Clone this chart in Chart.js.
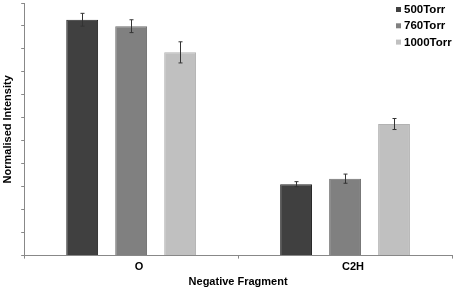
<!DOCTYPE html>
<html>
<head>
<meta charset="utf-8">
<script src="https://cdn.jsdelivr.net/npm/chart.js@4.4.1/dist/chart.umd.min.js"></script>
<style>
  html, body { margin: 0; padding: 0; background: #fff; }
  #wrap { width: 454px; height: 290px; }
</style>
</head>
<body>
<div id="wrap"><canvas id="chart"></canvas></div>
<script>
const categories = ["O", "C2H"];
const seriesNames = ["500Torr", "760Torr", "1000Torr"];
const values500 = [1.027, 0.311];
const values760 = [0.999, 0.335];
const values1000 = [0.885, 0.573];
const err500 = [0.028, 0.011];
const err760 = [0.028, 0.020];
const err1000 = [0.046, 0.024];
const yTicks = [0, 0.1, 0.2, 0.3, 0.4, 0.5, 0.6, 0.7, 0.8, 0.9, 1.0, 1.1];

const fills = ["#404040", "#808080", "#c0c0c0"];
const borders = ["#262626", "#6e6e6e", "#b2b2b2"];
const font = "'Liberation Sans', Arial, sans-serif";

// error bars drawn on top of each bar
const errorBars = {
    id: "errorBars",
    afterDatasetsDraw(chart) {
        const ctx = chart.ctx;
        const y = chart.scales.y;
        ctx.save();
        ctx.strokeStyle = "#333";
        ctx.lineWidth = 1;
        chart.data.datasets.forEach((ds, i) => {
            const meta = chart.getDatasetMeta(i);
            meta.data.forEach((bar, j) => {
                const x = Math.round(bar.x) + 0.5;
                const top = y.getPixelForValue(ds.data[j] + ds.errors[j]);
                const bot = y.getPixelForValue(ds.data[j] - ds.errors[j]);
                ctx.beginPath();
                ctx.moveTo(x, top); ctx.lineTo(x, bot);
                ctx.moveTo(x - 2, top); ctx.lineTo(x + 2, top);
                ctx.moveTo(x - 2, bot); ctx.lineTo(x + 2, bot);
                ctx.stroke();
            });
        });
        ctx.restore();
    }
};

// legend sitting inside the plot, top right
const cornerLegend = {
    id: "cornerLegend",
    afterDraw(chart) {
        const ctx = chart.ctx;
        ctx.save();
        ctx.font = "bold 11.5px " + font;
        ctx.textBaseline = "middle";
        chart.data.datasets.forEach((ds, i) => {
            const cy = 9.5 + i * 16.3;
            ctx.fillStyle = ds.backgroundColor;
            ctx.fillRect(396, cy - 2.5, 5, 5);
            ctx.fillStyle = "#000";
            ctx.fillText(ds.label, 404, cy + 0.5);
        });
        ctx.restore();
    }
};

new Chart(document.getElementById("chart"), {
    type: "bar",
    data: {
        labels: categories,
        datasets: [
            { label: seriesNames[0], data: values500, errors: err500, backgroundColor: fills[0], borderColor: borders[0] },
            { label: seriesNames[1], data: values760, errors: err760, backgroundColor: fills[1], borderColor: borders[1] },
            { label: seriesNames[2], data: values1000, errors: err1000, backgroundColor: fills[2], borderColor: borders[2] },
        ].map(d => Object.assign(d, { borderWidth: 1, categoryPercentage: 0.687, barPercentage: 0.65 })),
    },
    options: {
        responsive: true,
        maintainAspectRatio: false,
        animation: false,
        layout: { padding: { top: 3, right: 2, left: 0, bottom: 0 } },
        plugins: {
            legend: { display: false },
            tooltip: { enabled: false },
        },
        scales: {
            x: {
                grid: { display: true, drawOnChartArea: false, tickLength: 3, color: "#888" },
                border: { color: "#888" },
                ticks: { color: "#000", font: { size: 11, weight: "bold", family: font }, padding: 2, labelOffset: 8 },
                title: {
                    display: true, text: "Negative Fragment", color: "#000",
                    font: { size: 11, weight: "bold", family: font }, padding: { top: 0, bottom: 1 },
                },
            },
            y: {
                min: 0, max: 1.1,
                afterBuildTicks: axis => { axis.ticks = yTicks.map(v => ({ value: v })); },
                grid: { display: true, drawOnChartArea: false, tickLength: 3, color: "#888" },
                border: { color: "#888" },
                ticks: { display: false },
                title: {
                    display: true, text: "Normalised Intensity", color: "#000",
                    font: { size: 11, weight: "bold", family: font }, padding: { top: 1, bottom: 7 },
                },
            },
        },
    },
    plugins: [errorBars, cornerLegend],
});
</script>
</body>
</html>
